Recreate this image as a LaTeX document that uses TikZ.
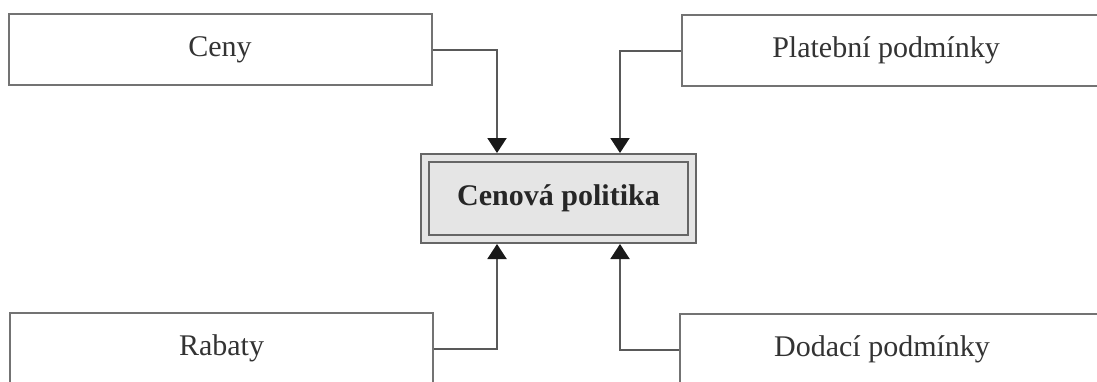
\documentclass[tikz,border=0pt]{standalone}
\usepackage{fontspec}
\setmainfont{Liberation Serif}
\usetikzlibrary{arrows.meta}
\begin{document}
\begin{tikzpicture}[x=1pt,y=-1pt,
  box/.style={draw=black!55,line width=2pt,fill=white,minimum width=423pt,minimum height=71pt,inner sep=0pt,
    font=\fontsize{30}{36}\selectfont,text=black!80},
  cbox/.style={draw=black!60,line width=2pt,fill=black!10,minimum width=275pt,minimum height=89pt,inner sep=0pt,
    font=\fontsize{30}{36}\selectfont\bfseries,text=black!85},
  conn/.style={draw=black!65,line width=2pt,-{Triangle[width=19pt,length=15pt,color=black!90]}}]
\useasboundingbox (0,0) rectangle (1097,381);
\fill[white] (0,0) rectangle (1097,381);
\begin{scope}
\clip (0,0) rectangle (1097,381);
\node[box] (ceny) at (220,49.5) {Ceny};
\node[box] (rab) at (221.5,348.5) {Rabaty};
\node[box,minimum width=440pt,label={[xshift=-16pt,font=\fontsize{30}{36}\selectfont,text=black!80]center:Platební podmínky}] (plat) at (902,50.5) {};
\node[box,minimum width=440pt,label={[xshift=-18pt,font=\fontsize{30}{36}\selectfont,text=black!80]center:Dodací podmínky}] (dod) at (900,349.5) {};
\node[cbox] (cp) at (558.5,198.5) {};
\draw[draw=black!60,line width=2pt] ([shift={(9,9)}]cp.north west) rectangle ([shift={(-9,-9)}]cp.south east);
\node[font=\fontsize{30}{36}\selectfont\bfseries,text=black!85] (cpt) at (cp.center) {Cenová politika};
\coordinate (a1) at (497,0);
\coordinate (a2) at (620,0);
\draw[conn] (ceny.east) -| (cp.north -| a1);
\draw[conn] (plat.west) -| (cp.north -| a2);
\draw[conn] (rab.east) -| (cp.south -| a1);
\draw[conn] (dod.west) -| (cp.south -| a2);
\end{scope}
\end{tikzpicture}
\end{document}
